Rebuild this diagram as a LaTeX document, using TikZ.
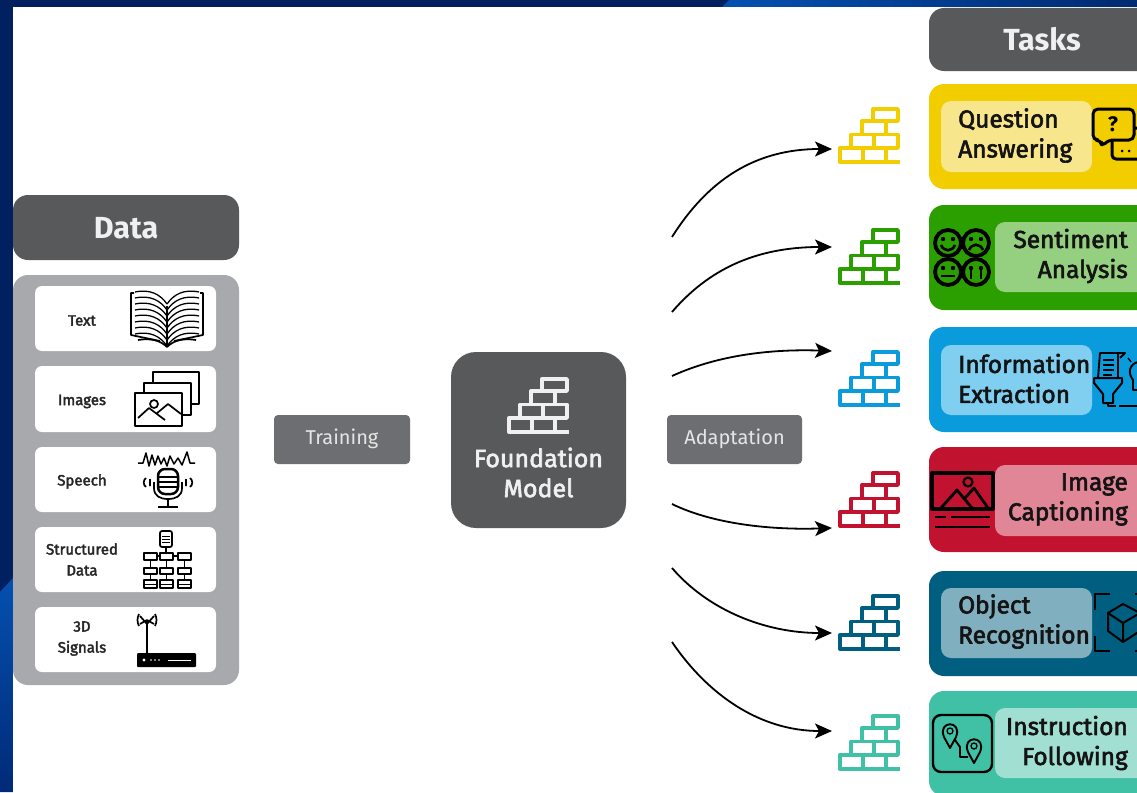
\documentclass[tikz,border=0pt]{standalone}
\usepackage{fontspec}
\setmainfont{Fira Sans}
\newfontfamily\midfont[FakeBold=2.5]{Fira Sans}
\usetikzlibrary{arrows.meta}
\definecolor{navy}{HTML}{002060}
\definecolor{wedge}{HTML}{0550B0}
\definecolor{wedgeb}{HTML}{002A78}
\definecolor{head}{HTML}{58595B}
\definecolor{panel}{HTML}{A7A9AC}
\definecolor{tag}{HTML}{6D6E71}
\definecolor{cYel}{HTML}{F2CD00}\definecolor{iYel}{HTML}{F8E68C}
\definecolor{cGrn}{HTML}{2B9E00}\definecolor{iGrn}{HTML}{95CF80}
\definecolor{cBlu}{HTML}{0A9BDC}\definecolor{iBlu}{HTML}{80CFF1}
\definecolor{cRed}{HTML}{C1122F}\definecolor{iRed}{HTML}{E08697}
\definecolor{cTea}{HTML}{005F80}\definecolor{iTea}{HTML}{80AFBF}
\definecolor{cLte}{HTML}{40C0A5}\definecolor{iLte}{HTML}{A0DFD2}
\newcommand{\rbox}[7]{% name x1 y1 x2 y2 colour radius
  \pgfmathsetmacro{\rw}{#4-#2}\pgfmathsetmacro{\rh}{#5-#3}
  \pgfmathsetmacro{\rx}{(#2+#4)/2}\pgfmathsetmacro{\ry}{(#3+#5)/2}
  \node[shape=rectangle,fill=#6,rounded corners=#7pt,inner sep=0pt,outer sep=0pt,
        minimum width=\rw pt,minimum height=\rh pt] (#1) at (\rx,\ry) {};}
\tikzset{
  brickpic/.pic={
    \draw[pic actions,line width=3.4pt,line join=round]
      (35,2) rectangle (60,14)
      (24,14) rectangle (48,27.5)
      (13,27.5) rectangle (36,41) (36,27.5) rectangle (60,41)
      (2,41) rectangle (25,55) (25,41) rectangle (48,55)
      (48,55) -- (62,55);
  },
  ink/.style={draw=black,line width=2.5pt,line join=round},
  thin ink/.style={draw=black,line width=1.7pt,line join=round},
  headtxt/.style={text=white!94!black,font=\fontsize{30.5}{33}\selectfont\bfseries},
  tagtxt/.style={text=white!90!black,font=\fontsize{20}{22}\selectfont},
  datatxt/.style={text=black!85,align=center,font=\fontsize{15}{21}\midfont},
  tasktxt/.style={text=black!92,inner sep=0pt,font=\fontsize{24.5}{30}\midfont},
  curve/.style={black,line width=1.8pt,-{Stealth[length=17pt,width=15pt,inset=4pt]}},
}
\begin{document}
\begin{tikzpicture}[x=1pt,y=-1pt]
\useasboundingbox (0,0) rectangle (1137,792);
\clip (0,0) rectangle (1137,792);
% background frame
\fill[navy] (0,0) rectangle (1137,792);
\shade[left color=wedge,right color=navy!80!wedge] (729,0) -- (1137,0) -- (1137,7) -- (722,7) -- cycle;
\shade[top color=wedge,bottom color=wedgeb] (0,592) -- (13,578) -- (13,792) -- (0,792) -- cycle;
\fill[white] (13,7) rectangle (1137,792);
% data column
\rbox{dataHead}{13}{195}{239}{260}{head}{15}
\node[headtxt] (dataT) at (126,228) {Data};
\rbox{dataPanel}{13}{275}{239}{685}{panel}{15}
\rbox{c1}{35}{286}{216}{351}{white}{7}
\rbox{c2}{35}{366}{216}{432}{white}{7}
\rbox{c3}{35}{447}{216}{512}{white}{7}
\rbox{c4}{35}{527}{216}{592}{white}{7}
\rbox{c5}{35}{607}{216}{672}{white}{7}
\node[datatxt] (l1) at (82,320.5) {Text};
\node[datatxt] (l2) at (82,401.5) {Images};
\node[datatxt] (l3) at (82,481.5) {Speech};
\node[datatxt] (l4) at (82,559.5) {Structured\\Data};
\node[datatxt] (l5) at (82,638.5) {3D\\Signals};
% book
\draw[thin ink] (134,293) -- (131,293) -- (131,335) -- (160,341) (200,293) -- (203,293) -- (203,335) -- (174,341);
\draw[thin ink] (167,306) -- (167,346);
\foreach \i in {0,...,7}{
  \pgfmathsetmacro{\yy}{292+\i*6}
  \draw[black,line width=1.3pt] (135,\yy) .. controls (150,\yy-3) and (160,\yy+2) .. (167,\yy+12);
  \draw[black,line width=1.3pt] (199,\yy) .. controls (184,\yy-3) and (174,\yy+2) .. (167,\yy+12);
}
\draw[thin ink] (138,340) .. controls (150,338) and (160,340) .. (167,347) .. controls (174,340) and (184,338) .. (196,340);
% images
\draw[ink,fill=white] (153,372) rectangle (199,404);
\draw[ink,fill=white] (144,383) rectangle (191,415);
\draw[ink,fill=white] (135,393) rectangle (182,426);
\draw[thin ink] (154,404) circle (4);
\draw[thin ink] (138,418) -- (149,408) -- (165,420) (156,414) -- (168,404) -- (181,414);
% microphone
\draw[black,line width=1.5pt,line join=round] (138,463) -- (143,463) -- (146,453) -- (149,466) -- (152,455) -- (155,465) -- (158,456) -- (161,464) -- (164,458) -- (167,466) -- (170,456) -- (174,464) -- (178,458) -- (182,465) -- (187,452) -- (190,463) -- (195,463);
\draw[ink,rounded corners=7pt] (158,469) rectangle (178,494);
\draw[thin ink] (158,477) -- (178,477) (158,482) -- (178,482) (158,487) -- (178,487);
\draw[thin ink] (154,482) -- (154,488) .. controls (154,496) and (160,499) .. (168,499) .. controls (176,499) and (182,496) .. (182,488) -- (182,482);
\draw[ink] (168,499) -- (168,506) (158,507) -- (178,507);
\draw[thin ink] (146,478) .. controls (143,480) and (143,485) .. (146,487) (150,479) -- (150,486);
\draw[thin ink] (186,479) -- (186,486) (190,478) .. controls (193,480) and (193,485) .. (190,487);
% hierarchy
\draw[thin ink,rounded corners=2pt] (160,531) rectangle (172,547);
\draw[black,line width=1pt] (162,536) -- (170,536) (162,539) -- (170,539) (162,542) -- (170,542);
\draw[thin ink] (166,547) -- (166,553) (157,556) -- (160,556) (173,556) -- (178,556);
\foreach \cx in {150.5,166.5,184.5}{
  \draw[thin ink] (\cx-6.5,553) rectangle (\cx+6.5,560);
  \draw[thin ink] (\cx,560) -- (\cx,568);
  \draw[thin ink] (\cx-6.5,568) rectangle (\cx+6.5,574);
  \draw[thin ink] (\cx,574) -- (\cx,580);
  \draw[thin ink] (\cx-6.5,580) rectangle (\cx+6.5,588);
  \draw[black,line width=1pt] (\cx-6.5,584) -- (\cx+6.5,584);
}
% antenna
\draw[ink] (147,620) -- (147,653);
\draw[thin ink] (140,616) -- (147,624) -- (154,616) (140,624) -- (147,620) -- (154,624);
\draw[thin ink] (139,614) .. controls (137,618) and (137,622) .. (139,626) (155,614) .. controls (157,618) and (157,622) .. (155,626);
\fill[black,rounded corners=1pt] (137,653) rectangle (196,667);
\fill[white] (144,660) circle (1.7) (151,660) circle (.8) (155,660) circle (.8) (159,660) circle (.8);
\draw[white,line width=1pt] (168,660) -- (191,660);
% centre
\rbox{trainTag}{274}{415}{410}{464}{tag}{4}
\node[tagtxt] (trainT) at (342,439) {Training};
\rbox{fm}{451}{352}{626}{528}{head}{25}
\pic[draw=white!94!black] (fmBrick) at (507,377) {brickpic};
\node[text=white!94!black,align=center,font=\fontsize{25}{30}\midfont] (fmT) at (538.5,472.5) {Foundation\\Model};
\rbox{adaptTag}{667}{415}{802}{464}{tag}{4}
\node[tagtxt] (adaptT) at (734.5,439) {Adaptation};
% arrows
\coordinate (s1) at (672,237); \coordinate (e1) at (832,149);
\coordinate (s2) at (672,312); \coordinate (e2) at (832,247);
\coordinate (s3) at (672,376); \coordinate (e3) at (832,351);
\coordinate (s4) at (672,504); \coordinate (e4) at (832,528);
\coordinate (s5) at (672,568); \coordinate (e5) at (832,633);
\coordinate (s6) at (672,642); \coordinate (e6) at (832,731);
\draw[curve] (s1) .. controls (708,180) and (755,149) .. (e1);
\draw[curve] (s2) .. controls (708,270) and (755,247) .. (e2);
\draw[curve] (s3) .. controls (720,354) and (775,349) .. (e3);
\draw[curve] (s4) .. controls (715,525) and (775,530) .. (e4);
\draw[curve] (s5) .. controls (708,610) and (765,633) .. (e5);
\draw[curve] (s6) .. controls (708,695) and (760,731) .. (e6);
% bricks
\pic[draw=cYel] (b1) at (838,107) {brickpic};
\pic[draw=cGrn] (b2) at (838,228) {brickpic};
\pic[draw=cBlu] (b3) at (838,350) {brickpic};
\pic[draw=cRed] (b4) at (838,471) {brickpic};
\pic[draw=cTea] (b5) at (838,594) {brickpic};
\pic[draw=cLte] (b6) at (838,714) {brickpic};
% tasks
\rbox{taskHead}{929}{8}{1160}{71}{head}{15}
\node[headtxt] (taskT) at (1042,39) {Tasks};
\rbox{t1}{929}{84}{1160}{189}{cYel}{15}
\rbox{t2}{929}{205}{1160}{310}{cGrn}{15}
\rbox{t3}{929}{327}{1160}{432}{cBlu}{15}
\rbox{t4}{929}{447}{1160}{552}{cRed}{15}
\rbox{t5}{929}{571}{1160}{676}{cTea}{15}
\rbox{t6}{929}{691}{1160}{796}{cLte}{15}
\rbox{i1}{941}{101}{1092}{172}{iYel}{10}
\rbox{i2}{995}{222}{1170}{292}{iGrn}{10}
\rbox{i3}{941}{345}{1092}{415}{iBlu}{10}
\rbox{i4}{995}{465}{1170}{536}{iRed}{10}
\rbox{i5}{941}{588}{1092}{658}{iTea}{10}
\rbox{i6}{995}{708}{1170}{778}{iLte}{10}
\node[tasktxt,align=left,anchor=west] (q1) at (958,135.5) {Question\\Answering};
\node[tasktxt,align=right,anchor=east] (q2) at (1128,256) {Sentiment\\Analysis};
\node[tasktxt,align=left,anchor=west] (q3) at (958,378.5) {Information\\Extraction};
\node[tasktxt,align=right,anchor=east] (q4) at (1128,499.5) {Image\\Captioning};
\node[tasktxt,align=left,anchor=west] (q5) at (958,621.5) {Object\\Recognition};
\node[tasktxt,align=right,anchor=east] (q6) at (1128,743) {Instruction\\Following};
% question bubbles
\draw[ink,line width=3pt,rounded corners=4pt] (1112,140) -- (1112,159) -- (1145,159) -- (1145,128) -- (1130,128);
\draw[ink,line width=3pt,rounded corners=5pt,fill=cYel] (1093,109) -- (1134,109) -- (1134,140) -- (1108,140) -- (1102,147) -- (1101,140) -- (1093,140) -- cycle;
\node[text=black,font=\fontsize{21}{21}\selectfont\bfseries] (qm) at (1113,124) {?};
\fill[black] (1122,151) circle (1.5) (1129,151) circle (1.5);
% smileys
\foreach \cx/\cy in {948/243,976/243,948/272,976/272}{
  \draw[black,line width=3.8pt] (\cx,\cy) circle (13);
  \fill[black] (\cx-5,\cy-4) circle (2.2) (\cx+5,\cy-4) circle (2.2);
}
\draw[black,line width=2.6pt] (941,245) .. controls (944,252) and (952,252) .. (955,245);
\draw[black,line width=2.6pt] (969,250) .. controls (972,243) and (980,243) .. (983,250);
\draw[black,line width=2.6pt] (941,276) -- (955,276);
\draw[black,line width=2.6pt] (971,267) -- (971,279) (981,267) -- (981,279);
% extraction
\draw[ink,line width=1.9pt] (1098,378) -- (1100,353) -- (1125,353) -- (1120,358) (1118,353) -- (1118,378);
\draw[black,line width=1.5pt] (1103,360) -- (1114,360) (1103,365) -- (1114,365) (1103,370) -- (1114,370) (1103,375) -- (1112,375);
\draw[ink,line width=2pt] (1094,378) -- (1122,378) -- (1122,383) -- (1113,394) -- (1113,403) -- (1103,403) -- (1103,394) -- (1094,383) -- cycle;
\draw[ink,line width=1.9pt] (1108,403) -- (1108,406) -- (1116,406) (1119,406) -- (1137,406);
\draw[ink,line width=1.9pt] (1138,362) .. controls (1130,364) and (1127,372) .. (1133,380) -- (1133,390) -- (1138,390);
\draw[ink,line width=1.4pt] (1128,358) -- (1131,362);
% caption image
\draw[ink,line width=3.2pt] (932,473) rectangle (993,509);
\draw[ink,line width=2.8pt] (941,508) -- (957,490) -- (972,508) (965,498) -- (974,488) -- (988,508);
\draw[black,line width=2.2pt] (968,482) circle (4.5);
\draw[black,line width=2.6pt] (935,517) -- (946,517) (951,517) -- (990,517) (935,527) -- (990,527);
% object
\draw[ink,line width=2.4pt] (1110,594) -- (1095,594) -- (1095,610) (1095,636) -- (1095,651) -- (1110,651);
\draw[ink,line width=2.4pt] (1135,594) -- (1139,594) (1135,651) -- (1139,651);
\draw[ink,line width=2pt] (1123,604) -- (1108,613) -- (1108,631) -- (1123,642) -- (1140,631) -- (1140,613) -- cycle;
\draw[ink,line width=2pt] (1108,613) -- (1123,623) -- (1140,613) (1123,623) -- (1123,642);
% pins
\draw[ink,line width=2.4pt,rounded corners=8pt] (933,715) rectangle (992,772);
\draw[ink,line width=1.9pt] (950,748) -- (944,737) .. controls (937,720) and (963,720) .. (956,737) -- cycle;
\draw[black,line width=1.3pt] (950,731) circle (3);
\draw[ink,line width=1.9pt] (974,763) -- (968,752) .. controls (961,735) and (987,735) .. (980,752) -- cycle;
\draw[black,line width=1.3pt] (974,746) circle (3);
\draw[ink,line width=1.9pt] (955,740) -- (960,747) -- (960,757) -- (968,757);
\end{tikzpicture}
\end{document}
